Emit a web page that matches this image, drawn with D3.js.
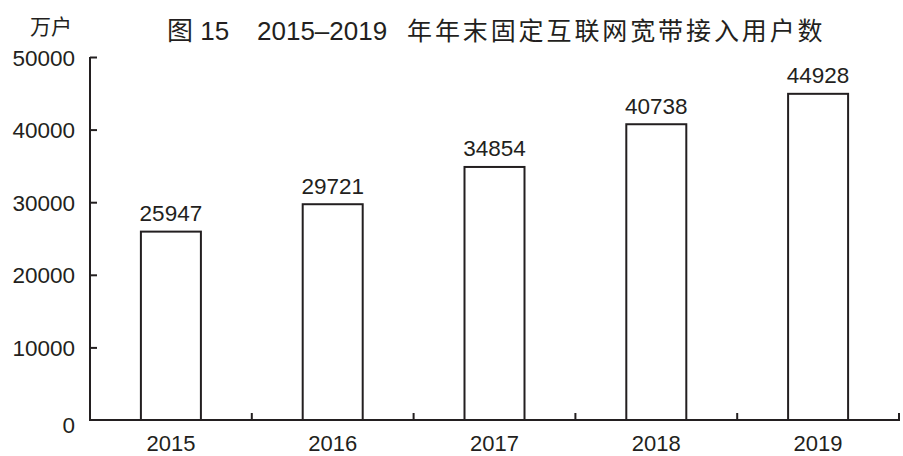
<!DOCTYPE html>
<html><head><meta charset="utf-8">
<script src="https://cdn.jsdelivr.net/npm/d3@7"></script>
<style>body{margin:0;background:#fff}svg{display:block}</style>
</head><body>
<svg id="c" width="903" height="456"></svg>
<script>
const categories = ["2015","2016","2017","2018","2019"];
const values = [25947,29721,34854,40738,44928];
const yTicks = [0,10000,20000,30000,40000,50000];
const titleParts = ["图 15", "2015–2019", "年年末固定互联网宽带接入用户数"];
const unitText = "万户";

(function(){
const svg = d3.select("#c");
const ink = "#231f20";
const latin = "'Liberation Sans', Arial, sans-serif";
const cjk = "'Liberation Sans', 'Noto Sans CJK SC', sans-serif";
const fs = 22.5;
const mLeft = 90, mRight = 899, mBottom = 420, mTop = 57;

const x = d3.scaleBand().domain(categories).range([mLeft, mRight]).paddingInner(0).paddingOuter(0);
const y = d3.scaleLinear().domain([0, 50000]).range([mBottom, mTop]);

// y axis
const ya = svg.append("g").attr("transform", `translate(${mLeft},0)`)
  .call(d3.axisLeft(y).tickValues(yTicks).tickSize(-7).tickPadding(15).tickFormat(d3.format("d")));
ya.select(".domain").attr("d", `M0,${mBottom}V${mTop}`).attr("stroke", ink).attr("stroke-width", 2);
ya.selectAll(".tick line").attr("stroke", ink).attr("stroke-width", 2);
ya.selectAll(".tick text").attr("font-family", latin).attr("font-size", fs).attr("fill", ink).attr("dy", "0.36em");
ya.selectAll(".tick").filter(d => d === 0).select("line").remove();
ya.selectAll(".tick").filter(d => d === 0).select("text").attr("dy", "0.55em");

// bars
const bw = 60;
svg.append("g").selectAll("rect").data(values).join("rect")
  .attr("x", (d,i) => x(categories[i]) + x.bandwidth()/2 - bw/2)
  .attr("y", d => y(d))
  .attr("width", bw)
  .attr("height", d => mBottom - y(d))
  .attr("fill", "#fff").attr("stroke", ink).attr("stroke-width", 2);

// x axis
const xa = svg.append("g").attr("transform", `translate(0,${mBottom})`);
xa.append("line").attr("x1", mLeft - 1).attr("x2", mRight + 1).attr("y1", 0).attr("y2", 0)
  .attr("stroke", ink).attr("stroke-width", 2);
categories.forEach((c, i) => {
  const bx = x(c) + x.bandwidth();
  xa.append("line").attr("x1", bx).attr("x2", bx).attr("y1", 0).attr("y2", -7)
    .attr("stroke", ink).attr("stroke-width", 2);
});
xa.selectAll("text.cat").data(categories).join("text").attr("class","cat")
  .attr("x", d => x(d) + x.bandwidth()/2).attr("y", 31)
  .attr("text-anchor", "middle").attr("font-family", latin).attr("font-size", 22).attr("fill", ink)
  .text(d => d);

// value labels
svg.append("g").selectAll("text").data(values).join("text")
  .attr("x", (d,i) => x(categories[i]) + x.bandwidth()/2)
  .attr("y", d => y(d) - 10.5)
  .attr("text-anchor", "middle").attr("font-family", latin).attr("font-size", fs).attr("fill", ink)
  .text(d => d);

// title & unit
const t = svg.append("text").attr("y", 40).attr("fill", ink).attr("font-family", cjk);
t.append("tspan").attr("x", 167).attr("font-size", 26).text(titleParts[0]);
t.append("tspan").attr("x", 257).attr("font-size", 26).attr("font-family", latin).text(titleParts[1]);
t.append("tspan").attr("x", 407).attr("font-size", 25).attr("letter-spacing", 2.9).text(titleParts[2]);
svg.append("text").attr("x", 51).attr("y", 34).attr("text-anchor", "middle").attr("font-family", cjk)
  .attr("font-size", 21).attr("fill", ink).text(unitText);
})();
</script>
</body></html>
